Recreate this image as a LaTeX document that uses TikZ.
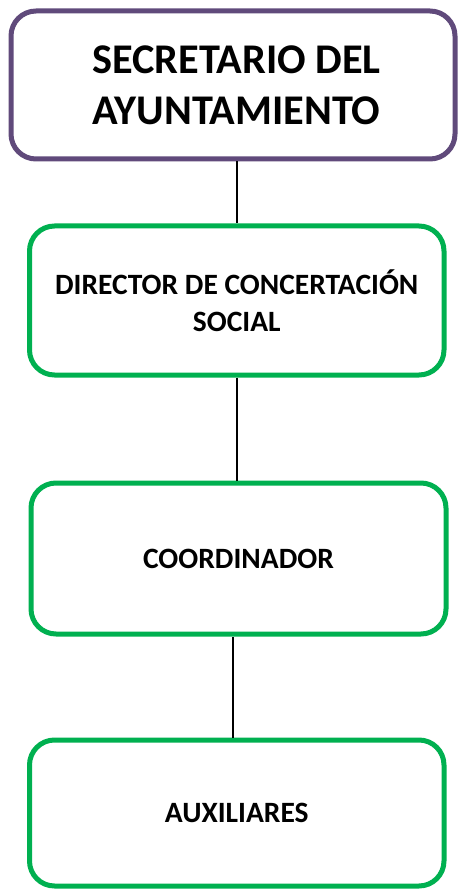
\documentclass[tikz,border=0pt]{standalone}
\usepackage{fontspec}
\setmainfont{Carlito}
\definecolor{topline}{HTML}{604A7B}
\definecolor{boxgreen}{HTML}{00B050}
\tikzset{
  orgbox/.style={draw=boxgreen, line width=5pt, rounded corners=25pt, fill=white,
    align=center, inner sep=0pt, font=\bfseries\fontsize{29.5}{37}\selectfont},
  topbox/.style={orgbox, draw=topline, font=\bfseries\fontsize{42.3}{51}\selectfont},
  link/.style={draw=black, line width=2pt}
}
\begin{document}
\begin{tikzpicture}[x=1pt,y=-1pt]
\useasboundingbox (0,0) rectangle (458,890);
\node[topbox, minimum width=444pt, minimum height=148pt] (sec) at (233,85) {\hspace*{7pt}SECRETARIO DEL\\\hspace*{7pt}AYUNTAMIENTO};
\node[orgbox, minimum width=414.5pt, minimum height=149pt] (dir) at (236.75,300.5) {DIRECTOR DE CONCERTACIÓN\\SOCIAL};
\node[orgbox, minimum width=415pt, minimum height=151pt] (coo) at (238.5,558.5) {COORDINADOR};
\node[orgbox, minimum width=414.5pt, minimum height=146pt] (aux) at (236.75,813) {AUXILIARES};
\draw[link] (sec.south -| dir.north) -- (dir.north);
\draw[link] (dir.south) -- (dir.south |- coo.north);
\draw[link] ([xshift=-4pt]aux.north) -- ([xshift=-4pt]aux.north |- coo.south);
\end{tikzpicture}
\end{document}
